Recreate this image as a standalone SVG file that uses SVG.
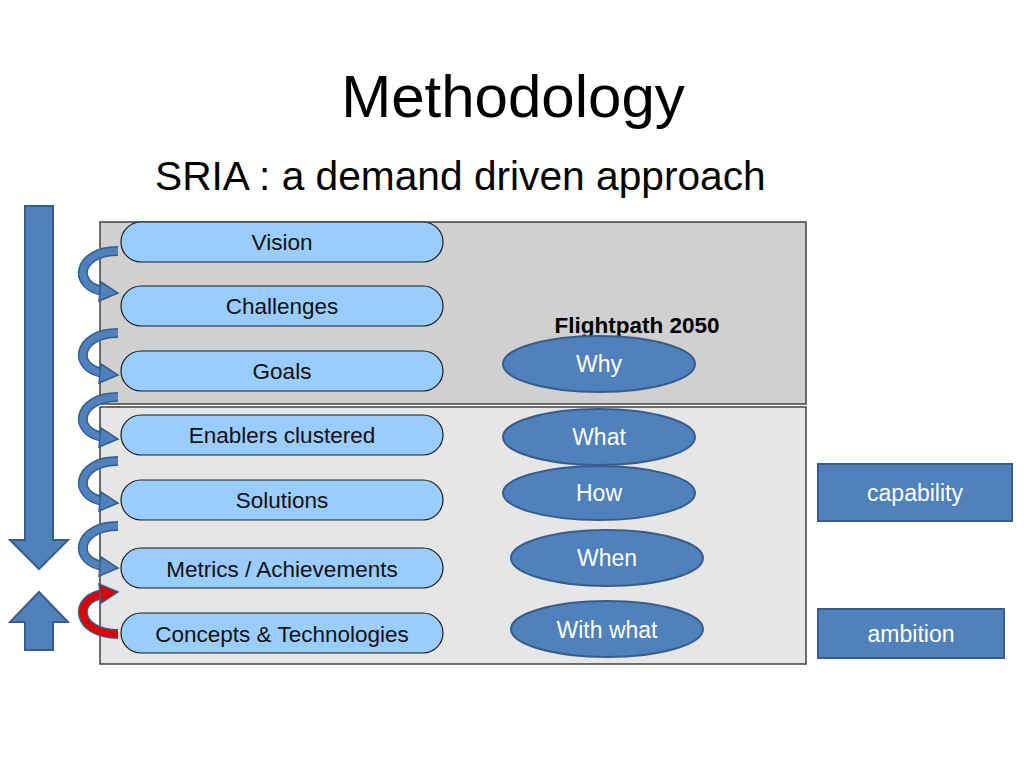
<svg xmlns="http://www.w3.org/2000/svg" xmlns:xlink="http://www.w3.org/1999/xlink" width="1024" height="768" viewBox="0 0 1024 768">
<style>
text{font-family:"Liberation Sans","Open Sans",Arial,sans-serif}
.pill{fill:#99ccff;stroke:#1a1a1a;stroke-width:1.2}
.pt{font-size:22.5px;fill:#111;text-anchor:middle}
.ell{fill:#4f81bd;stroke:#385d8a;stroke-width:2}
.et{font-size:23px;fill:#fff;text-anchor:middle}
.big{fill:#4f81bd;stroke:#385d8a;stroke-width:2}
</style>
<defs>
<g id="carrow">
<path d="M0,0 C-42,0 -46,36 -14,40" fill="none" stroke="#385d8a" stroke-width="10"/>
<path d="M0,0 C-42,0 -46,36 -14,40" fill="none" stroke="#4f81bd" stroke-width="7"/>
<polygon points="-17,31 0,42 -19,50" fill="#4f81bd" stroke="#385d8a" stroke-width="1.5"/>
</g>
<g id="rarrow">
<path d="M0,0 C-42,0 -46,36 -14,40" fill="none" stroke="#385d8a" stroke-width="10"/>
<path d="M0,0 C-42,0 -46,36 -14,40" fill="none" stroke="#e00000" stroke-width="7"/>
<polygon points="-17,31 0,42 -19,50" fill="#e00000" stroke="#385d8a" stroke-width="1.5"/>
</g>
</defs>
<rect width="1024" height="768" fill="#fff"/>
<text x="513" y="117" font-size="60" text-anchor="middle" fill="#000">Methodology</text>
<text x="155" y="190" font-size="40.7" fill="#000">SRIA : a demand driven approach</text>

<g id="panel-top"><rect x="100" y="222" width="706" height="182" fill="#d0d0d0" stroke="#404040" stroke-width="1.5"/>
<text x="637" y="333" font-size="22.5" font-weight="bold" text-anchor="middle" fill="#000">Flightpath 2050</text></g>
<g id="panel-bottom"><rect x="100" y="407" width="706" height="257" fill="#e6e6e6" stroke="#404040" stroke-width="1.5"/></g>

<g id="down-arrow"><polygon class="big" points="25,206 53,206 53,540 68,540 39,569 10,540 25,540"/></g>
<g id="up-arrow"><polygon class="big" points="39,592 68,622 53,622 53,650 25,650 25,622 10,622"/></g>

<g id="connectors">
<use xlink:href="#carrow" x="118" y="251"/>
<use xlink:href="#carrow" x="118" y="333"/>
<use xlink:href="#carrow" x="118" y="397"/>
<use xlink:href="#carrow" x="118" y="461"/>
<use xlink:href="#carrow" x="118" y="526"/>
<use xlink:href="#rarrow" transform="translate(118,634) scale(1,-1)"/>
</g>

<g id="vision"><rect class="pill" x="121" y="222" width="322" height="40" rx="20"/><text class="pt" x="282" y="250">Vision</text></g>
<g id="challenges"><rect class="pill" x="121" y="286" width="322" height="40" rx="20"/><text class="pt" x="282" y="314">Challenges</text></g>
<g id="goals"><rect class="pill" x="121" y="351" width="322" height="40" rx="20"/><text class="pt" x="282" y="379">Goals</text></g>
<g id="enablers"><rect class="pill" x="121" y="415" width="322" height="40" rx="20"/><text class="pt" x="282" y="443">Enablers clustered</text></g>
<g id="solutions"><rect class="pill" x="121" y="480" width="322" height="40" rx="20"/><text class="pt" x="282" y="508">Solutions</text></g>
<g id="metrics"><rect class="pill" x="121" y="548" width="322" height="40" rx="20"/><text class="pt" x="282" y="577">Metrics / Achievements</text></g>
<g id="concepts"><rect class="pill" x="121" y="613" width="322" height="40" rx="20"/><text class="pt" x="282" y="642">Concepts &amp; Technologies</text></g>

<g id="why"><ellipse class="ell" cx="599" cy="364" rx="96" ry="28"/><text class="et" x="599" y="372">Why</text></g>
<g id="what"><ellipse class="ell" cx="599" cy="437" rx="96" ry="28"/><text class="et" x="599" y="445">What</text></g>
<g id="how"><ellipse class="ell" cx="599" cy="493" rx="96" ry="27"/><text class="et" x="599" y="501">How</text></g>
<g id="when"><ellipse class="ell" cx="607" cy="558" rx="96" ry="28"/><text class="et" x="607" y="566">When</text></g>
<g id="withwhat"><ellipse class="ell" cx="607" cy="629" rx="96" ry="28"/><text class="et" x="607" y="638">With what</text></g>

<g id="capability"><rect class="big" x="818" y="464" width="194" height="57"/><text class="et" x="915" y="501">capability</text></g>
<g id="ambition"><rect class="big" x="818" y="609" width="186" height="49"/><text class="et" x="911" y="642">ambition</text></g>
</svg>
